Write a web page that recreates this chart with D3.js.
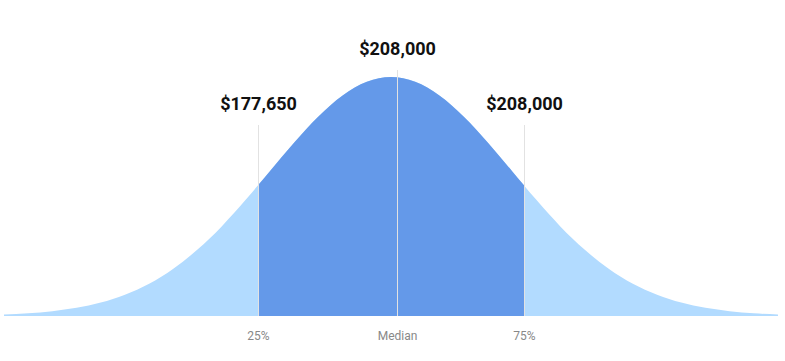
<!DOCTYPE html>
<html>
<head>
<meta charset="utf-8">
<script src="https://cdn.jsdelivr.net/npm/d3@7"></script>
<style>
  body { margin: 0; background: #fff; }
  svg { display: block; font-family: Roboto, "Noto Sans", sans-serif; }
</style>
</head>
<body>
<div id="container"></div>
<script>
let w = 785;
let h = 361;

// curve: position (in std units) and relative height
let curveZ = [-3.2, -3.0, -2.8, -2.6, -2.4, -2.2, -2.0, -1.8, -1.6, -1.4, -1.2, -1.0, -0.8, -0.6, -0.4, -0.2,
              0, 0.2, 0.4, 0.6, 0.8, 1.0, 1.2, 1.4, 1.6, 1.8, 2.0, 2.2, 2.4, 2.6, 2.8, 3.0, 3.2];
let curveHeight = [0.006, 0.011, 0.020, 0.034, 0.056, 0.089, 0.135, 0.198, 0.278, 0.375, 0.487, 0.607, 0.726, 0.835, 0.923, 0.980,
                   1.000, 0.980, 0.923, 0.835, 0.726, 0.607, 0.487, 0.375, 0.278, 0.198, 0.135, 0.089, 0.056, 0.034, 0.020, 0.011, 0.006];

// markers
let markerNames = ["25%", "Median", "75%"];
let markerZ = [-1.1, 0.05, 1.1];
let markerValues = [177650, 208000, 208000];

let viz = d3.select("#container")
  .append("svg")
    .attr("width", w)
    .attr("height", h)
    .style("background-color", "white")
;

let xScale = d3.scaleLinear().domain([-3.2, 3.2]).range([4, 778]);
let yScale = d3.scaleLinear().domain([0, 1]).range([316, 77]);

let points = curveZ.map((z, i) => ({ z: z, v: curveHeight[i] }));

let area = d3.area()
  .x(d => xScale(d.z))
  .y0(yScale(0))
  .y1(d => yScale(d.v))
  .curve(d3.curveMonotoneX)
;

// clip for the middle 50%
viz.append("clipPath")
    .attr("id", "mid")
  .append("rect")
    .attr("x", xScale(markerZ[0]))
    .attr("y", 0)
    .attr("width", xScale(markerZ[2]) - xScale(markerZ[0]))
    .attr("height", h)
;

viz.append("path")
  .datum(points)
  .attr("d", area)
  .attr("fill", "#b2dbff")
;

viz.append("path")
  .datum(points)
  .attr("d", area)
  .attr("fill", "#6499e9")
  .attr("clip-path", "url(#mid)")
;

let markers = markerNames.map((name, i) => ({ name: name, z: markerZ[i], value: markerValues[i] }));
let fmt = d3.format("$,");

let groups = viz.selectAll(".marker").data(markers).enter()
  .append("g")
    .classed("marker", true)
    .attr("transform", d => "translate(" + Math.round(xScale(d.z)) + ".5,0)")
;

groups.append("line")
  .attr("x1", 0)
  .attr("x2", 0)
  .attr("y1", d => d.name == "Median" ? 70 : 125)
  .attr("y2", yScale(0))
  .attr("stroke", "#e2e2e2")
  .attr("stroke-width", 1)
;

groups.append("text")
  .attr("text-anchor", "middle")
  .attr("y", d => d.name == "Median" ? 55 : 110)
  .style("font-size", "18px")
  .style("font-weight", "bold")
  .style("fill", "#111")
  .text(d => fmt(d.value))
;

groups.append("text")
  .attr("text-anchor", "middle")
  .attr("y", 340)
  .style("font-size", "12px")
  .style("fill", "#888")
  .text(d => d.name)
;
</script>
</body>
</html>
